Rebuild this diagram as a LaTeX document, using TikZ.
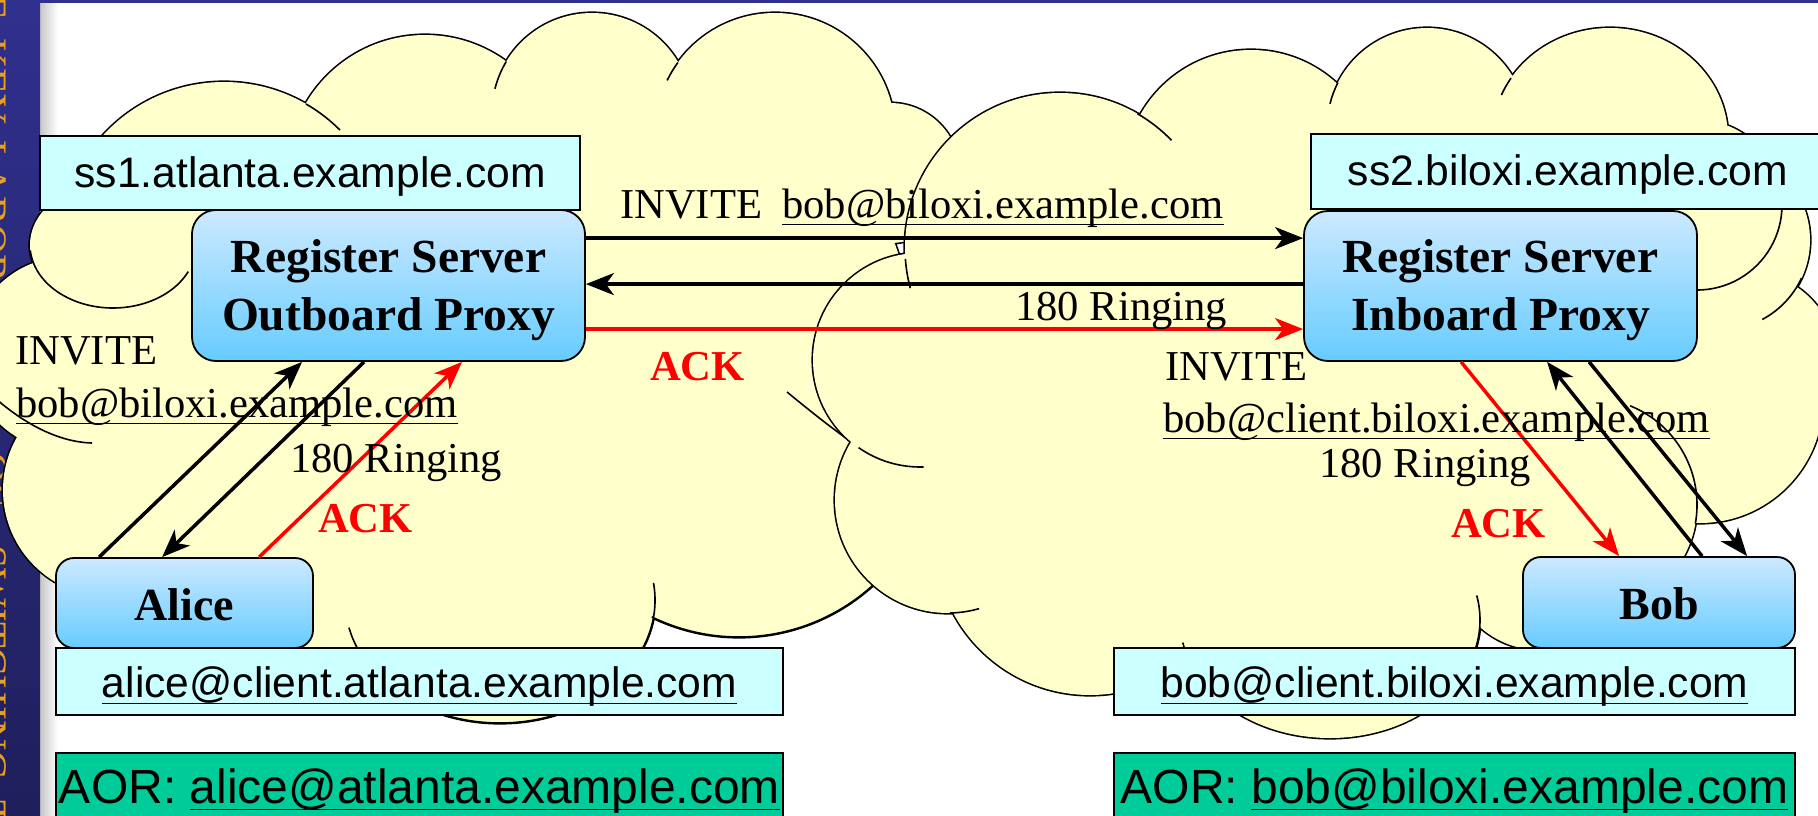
\documentclass[tikz,border=0pt]{standalone}
\usepackage{fontspec}
\setmainfont{Liberation Serif}
\newfontfamily\arialfam{Liberation Sans}
\usetikzlibrary{calc,arrows.meta}

\definecolor{cloudfill}{HTML}{FFFFCC}
\definecolor{hostcyan}{HTML}{CCFFFF}
\definecolor{aorgreen}{HTML}{00CC99}
\definecolor{proxytop}{HTML}{CCE9FF}
\definecolor{proxybot}{HTML}{66CCFF}
\definecolor{ackred}{HTML}{FF0000}
\definecolor{stripblue}{HTML}{30308E}
\definecolor{stripdark}{HTML}{1F1F5C}
\definecolor{stripgold}{HTML}{E8A020}

\newcommand\ptsize[2]{\fontsize{#1}{#2}\selectfont}
% underlined address: text followed by a rule a little below the baseline
\newsavebox\addrbox
\newcommand\addrline[1]{\sbox\addrbox{#1}\rlap{\usebox\addrbox}\rule[-7pt]{\wd\addrbox}{1.4pt}}

\tikzset{
  hostlabel/.style={draw=black, line width=2pt, fill=hostcyan, inner sep=0pt,
    font=\arialfam\ptsize{42.6}{50}},
  aorlabel/.style={draw=black, line width=2pt, fill=aorgreen, inner sep=0pt,
    font=\arialfam\ptsize{48}{56}},
  proxybox/.style={draw=black, line width=1.8pt, rounded corners=24pt,
    top color=proxytop, bottom color=proxybot, inner sep=0pt, align=center,
    font=\bfseries\ptsize{47.5}{58}},
  userbox/.style={draw=black, line width=1.8pt, rounded corners=18pt,
    top color=proxytop, bottom color=proxybot, inner sep=0pt,
    font=\bfseries\ptsize{46}{54}},
  msg/.style={inner sep=0pt, anchor=base west, font=\ptsize{42.6}{50}},
  ackmsg/.style={inner sep=0pt, anchor=base west, text=ackred, font=\bfseries\ptsize{42.6}{50}},
  blackarrow/.style={line width=3.5pt, -{Stealth[length=28pt,width=22pt,inset=8pt]}},
  redarrow/.style={blackarrow, draw=ackred},
  cloudedge/.style={line width=3.2pt, draw=black},
  cloudarc/.style={line width=1.6pt, draw=black},
  striptext/.style={inner sep=0pt, rotate=-90, anchor=base west, text=stripgold,
    font=\ptsize{42}{50}}
}

% bumps of the two clouds
\def\leftcloud{
  (113,245) ellipse [x radius=83, y radius=63]
  (224,246) circle [radius=164]
  (425,173) circle [radius=138]
  (592,113) circle [radius=100]
  (775,133) circle [radius=120]
  (890,173) circle [radius=70]
  (67,354) circle [radius=97]
  (110,490) circle [radius=107]
  (200,505) circle [radius=75]
  (500,600) ellipse [x radius=155, y radius=123]
  (739,438) circle [radius=199]
  (330,540) circle [radius=115]
  (470,370) ellipse [x radius=380, y radius=230]
  (800,330) ellipse [x radius=110, y radius=170]
}
\def\rightcloud{
  (1060,248) circle [radius=155]
  (1251,177) circle [radius=127]
  (1427,128) circle [radius=100]
  (1610,138) ellipse [x radius=118, y radius=110]
  (1697,205) circle [radius=85]
  (1720,240) circle [radius=90]
  (1745,363) circle [radius=92]
  (1700,400) circle [radius=123]
  (1590,505) circle [radius=107]
  (1330,620) ellipse [x radius=150, y radius=118]
  (1540,560) circle [radius=90]
  (1090,540) circle [radius=155]
  (948,500) circle [radius=113]
  (920,360) circle [radius=107]
  (1300,390) ellipse [x radius=390, y radius=230]
}

\begin{document}
\begin{tikzpicture}[x=1pt, y=-1pt]
\useasboundingbox (0,0) rectangle (1818,816);
\fill[white] (0,0) rectangle (1818,816);

% slide frame: side strip, top rule and shadow
\shade[left color=black!22, right color=white] (40,3) rectangle (58,816);
\shade[top color=stripblue, bottom color=stripdark] (0,0) rectangle (40,816);
\fill[stripblue] (0,0) rectangle (1818,3);
\node[striptext] (wE) at (-21,-6) {E};
\node[striptext] (wKey) at (-21,38) {KEY};
\node[striptext] (wLab) at (-21,140) {LABORATORY};
\node[striptext] (wOf) at (-21,452) {OF};
\node[striptext] (wSw) at (-21,545) {SWITCHING};
\node[striptext] (wT) at (-21,800) {T};

% left cloud
\draw[cloudedge] \leftcloud;
\fill[cloudfill] \leftcloud;
\draw[cloudarc] (113,245) ++(25:83 and 63) arc[start angle=25, end angle=175, x radius=83, y radius=63];
\draw[cloudarc] (-5,398) .. controls (20,420) and (55,442) .. (92,443);
\draw[cloudarc] (224,246) ++(-60:164) arc[start angle=-60, end angle=-45, radius=164];
\draw[cloudarc] (592,113) ++(194:100) arc[start angle=194, end angle=211, radius=100];
\draw[cloudarc] (775,133) ++(206:120) arc[start angle=206, end angle=216, radius=120];
\draw[cloudarc] (500,600) ++(-8:155 and 123) arc[start angle=-8, end angle=167, x radius=155, y radius=123];
\draw[cloudarc] (739,438) ++(40:199) arc[start angle=40, end angle=116, radius=199];
\draw[cloudarc] (787,392) .. controls (815,415) and (840,435) .. (880,462);

% right cloud
\draw[cloudedge] \rightcloud;
\fill[cloudfill] \rightcloud;
\draw[cloudarc] (1060,248) ++(-60:155) arc[start angle=-60, end angle=-44, radius=155];
\draw[cloudarc] (1060,248) ++(165:155) arc[start angle=165, end angle=176, radius=155];
\draw[cloudarc] (1427,128) ++(194:100) arc[start angle=194, end angle=207, radius=100];
\draw[cloudarc] (1610,138) ++(203:118 and 110) arc[start angle=203, end angle=213, x radius=118, y radius=110];
\draw[cloudarc] (1697,205) ++(0:85) arc[start angle=0, end angle=95, radius=85];
\draw[cloudarc] (1720,240) ++(25:90) arc[start angle=25, end angle=62, radius=90];
\draw[cloudarc] (1590,505) ++(-68:107) arc[start angle=-68, end angle=10, radius=107];
\draw[cloudarc] (920,360) ++(88:107) arc[start angle=88, end angle=125, radius=107];
\draw[cloudarc] (948,500) ++(74:113) arc[start angle=74, end angle=89, radius=113];
\draw[cloudarc] (1330,620) ++(150:150 and 118) arc[start angle=150, end angle=169, x radius=150, y radius=118];
\draw[cloudarc] (1330,620) ++(-12:150 and 118) arc[start angle=-12, end angle=15, x radius=150, y radius=118];

% hosts and proxies
\node[hostlabel, minimum width=540pt, minimum height=74pt, text height=36pt, text depth=8pt]
  (ss1) at (310,173) {ss1.atlanta.example.com};
\node[hostlabel, minimum width=514pt, minimum height=75pt, text height=36pt, text depth=8pt]
  (ss2) at (1568,171.5) {ss2.biloxi.example.com};
\node[proxybox, minimum width=393pt, minimum height=151pt, text height=99pt, text depth=10pt]
  (outP) at (388.5,285.5) {Register Server\\Outboard Proxy};
\node[proxybox, minimum width=393pt, minimum height=150pt, text height=99pt, text depth=10pt]
  (inP) at (1500.5,286) {Register Server\\Inboard Proxy};
\node[userbox, minimum width=257pt, minimum height=90pt, text height=44pt, text depth=10pt]
  (alice) at (184.5,603) {Alice};
\node[userbox, minimum width=272pt, minimum height=91pt, text height=44pt, text depth=10pt]
  (bob) at (1659,602.5) {Bob};
\node[hostlabel, minimum width=727pt, minimum height=67pt, text height=40pt, text depth=9pt]
  (aliceC) at (419.5,681.5) {\addrline{alice@client.atlanta.example.com}};
\node[hostlabel, minimum width=681pt, minimum height=67pt, text height=40pt, text depth=9pt]
  (bobC) at (1454.5,681.5) {\addrline{bob@client.biloxi.example.com}};
\node[aorlabel, minimum width=727pt, minimum height=77pt, text height=35pt, text depth=12pt]
  (aliceA) at (419.5,791.5) {AOR: \addrline{alice@atlanta.example.com}};
\node[aorlabel, minimum width=681pt, minimum height=77pt, text height=35pt, text depth=12pt]
  (bobA) at (1454.5,791.5) {AOR: \addrline{bob@biloxi.example.com}};

% proxy to proxy
\draw[blackarrow] ($(outP.north east)+(0,29)$) -- ($(inP.north west)+(0,28)$);
\draw[blackarrow] ($(inP.north west)+(0,74)$) -- ($(outP.north east)+(0,75)$);
\draw[redarrow] ($(outP.north east)+(0,120)$) -- ($(inP.north west)+(0,119)$);
% Alice side
\draw[blackarrow] ($(alice.north west)+(44,0)$) -- ($(outP.south west)+(111,0)$);
\draw[blackarrow] ($(outP.south west)+(173,0)$) -- ($(alice.north west)+(107,0)$);
\draw[redarrow] ($(alice.north west)+(204,0)$) -- ($(outP.south west)+(271,0)$);
% Bob side
\draw[redarrow] ($(inP.south west)+(158,0)$) -- ($(bob.north west)+(97,0)$);
\draw[blackarrow] ($(bob.north west)+(180,0)$) -- ($(inP.south west)+(244,0)$);
\draw[blackarrow] ($(inP.south west)+(286,0)$) -- ($(bob.north west)+(225,0)$);

% message labels
\node[msg] (mInvite) at (620,218) {INVITE\hspace{20pt}\addrline{bob@biloxi.example.com}};
\node[msg] (mRing) at (1015,320) {180 Ringing};
\node[ackmsg] (mAck) at (650,380) {ACK};
\node[msg] (lInvite) at (15,364) {INVITE};
\node[msg] (lUri) at (16,417) {\addrline{bob@biloxi.example.com}};
\node[msg] (lRing) at (290,472) {180 Ringing};
\node[ackmsg] (lAck) at (318,532) {ACK};
\node[msg] (rInvite) at (1165,380) {INVITE};
\node[msg] (rUri) at (1163,432) {\addrline{bob@client.biloxi.example.com}};
\node[msg] (rRing) at (1319,477) {180 Ringing};
\node[ackmsg] (rAck) at (1451,537) {ACK};
\end{tikzpicture}
\end{document}
